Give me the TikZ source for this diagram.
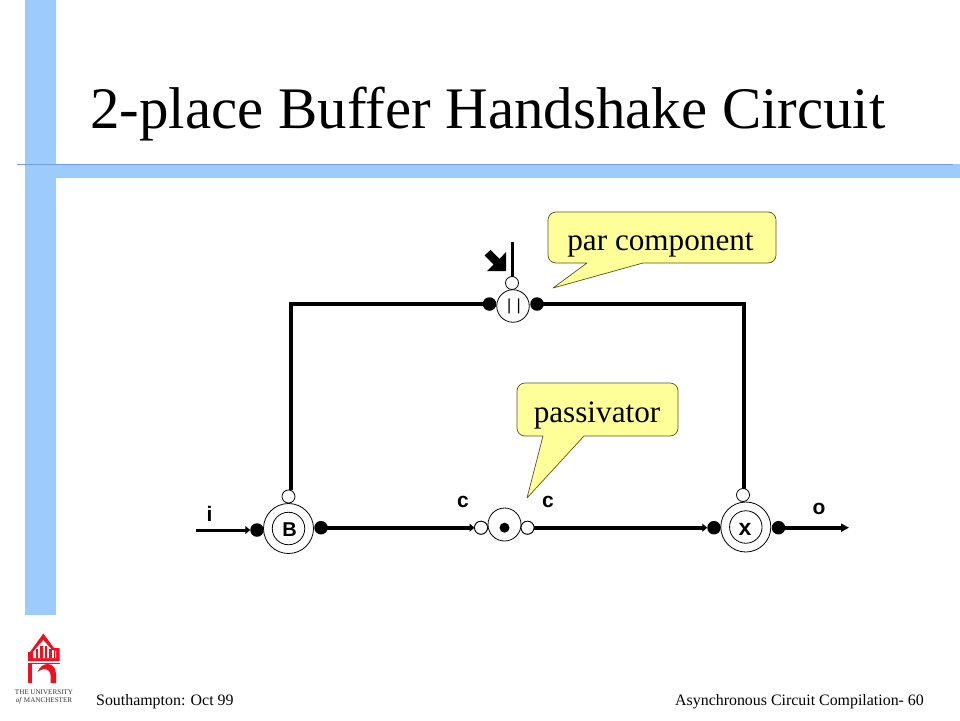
\documentclass[tikz,border=0pt]{standalone}
\usepackage{fontspec}
\setmainfont{Liberation Serif}
\setsansfont{Liberation Sans}
\usetikzlibrary{arrows.meta}
\definecolor{bandblue}{HTML}{9DCBFD}
\definecolor{ruleblue}{HTML}{6F9FE0}
\definecolor{notefill}{HTML}{FFFF99}
\definecolor{noteline}{HTML}{555522}
\definecolor{logored}{HTML}{EE1122}
\definecolor{logotext}{HTML}{333333}
\tikzset{
  ring/.style={circle,draw=black,line width=0.8pt,fill=white,inner sep=0pt,outer sep=0pt,minimum size=#1},
  port/.style={circle,fill=black,draw=none,inner sep=0pt,outer sep=0pt,minimum size=13.5pt},
  hollow/.style={circle,draw=black,line width=0.8pt,fill=white,inner sep=0pt,outer sep=0pt,minimum size=13pt},
  wire/.style={line width=4pt,line cap=butt},
  thinwire/.style={line width=3pt},
  tip/.style={-{Triangle[length=8pt,width=8pt]}},
  smalltip/.style={-{Triangle[length=5pt,width=8pt]}},
  lab/.style={font=\sffamily\bfseries\fontsize{21}{21}\selectfont,inner sep=0pt,anchor=base},
  note/.style={fill=notefill,draw=noteline,line width=0.7pt,line join=round},
  notetext/.style={font=\fontsize{31.2}{31}\selectfont,inner sep=0pt,anchor=base},
  foot/.style={font=\fontsize{15.9}{16}\selectfont,inner sep=0pt,anchor=base west},
  logotype/.style={inner sep=0pt,text=logotext,font=\fontsize{7.1}{8}\selectfont},
}
\begin{document}
\begin{tikzpicture}[x=1pt,y=-1pt]
\useasboundingbox (0,0) rectangle (960,720);
\fill[white] (0,0) rectangle (960,720);
% bands
\fill[bandblue] (25,0) rectangle (56,615);
\fill[bandblue] (56,164) rectangle (960,178);
\draw[ruleblue,line width=0.9pt] (17,164.3) -- (953,164.3);
% title
\node[inner sep=0pt,anchor=base west,font=\fontsize{58.9}{60}\selectfont] (title) at (90,128) {2-place Buffer Handshake Circuit};
% callouts
\path[note] (556,212) -- (768,212) arc[start angle=-90,end angle=0,radius=8] -- (776,255) arc[start angle=0,end angle=90,radius=8] -- (643,263) -- (553,288) -- (587,263) -- (556,263) arc[start angle=90,end angle=180,radius=8] -- (548,220) arc[start angle=180,end angle=270,radius=8] -- cycle;
\node[notetext] (noteA) at (660.5,250) {par component};
\path[note] (525,383) -- (670,383) arc[start angle=-90,end angle=0,radius=8] -- (678,428) arc[start angle=0,end angle=90,radius=8] -- (584,436) -- (527,498) -- (543,436) -- (525,436) arc[start angle=90,end angle=180,radius=8] -- (517,391) arc[start angle=180,end angle=270,radius=8] -- cycle;
\node[notetext] (noteB) at (597,422) {passivator};
% anchors of wires
\coordinate (cornerL) at (291,304);
\coordinate (cornerR) at (744,304);
\coordinate (dropL) at (291,490);
\coordinate (dropR) at (744,489);
\coordinate (inStart) at (196,530);
\coordinate (outEnd) at (849,527.7);
\coordinate (actTop) at (512,242);
% components
\node[port] (parL) at (489.5,304) {};
\node[port] (parR) at (537,304) {};
\node[port] (bL) at (257,530) {};
\node[port] (bR) at (321,527.7) {};
\node[port] (xL) at (714,527.7) {};
\node[port] (xR) at (778.5,527.7) {};
\node[hollow] (pasL) at (481,527.7) {};
\node[hollow] (pasR) at (527.5,527.7) {};
% wires
\draw[wire] (parL.center) -- (cornerL) -- (dropL);
\draw[wire] (parR.center) -- (cornerR) -- (dropR);
\draw[wire,smalltip] (bR.center) -- (pasL.west);
\draw[wire,smalltip] (pasR.center) -- (xL.west);
\draw[thinwire,smalltip] (inStart) -- (bL.west);
\draw[wire,tip] (xR.center) -- (outEnd);
\draw[thinwire] (actTop) -- (512,277);
% rings
\node[ring=32.5pt] (par) at (513,306) {};
\node[inner sep=0pt,font=\sffamily\fontsize{16}{16}\selectfont] (parT) at (514,306) {|\kern5.4pt|};
\node[hollow] (parTop) at (512,283) {};
\node[ring=50pt] (bOuter) at (288.5,528.5) {};
\node[ring=32.5pt] (bInner) at (288.5,528.5) {};
\node[lab,font=\sffamily\bfseries\fontsize{20}{20}\selectfont] (bT) at (289.5,536) {B};
\node[hollow] (bTop) at (288.5,496.5) {};
\node[ring=50pt] (xOuter) at (745.8,527) {};
\node[ring=32.5pt] (xInner) at (745.8,527) {};
\node[lab,font=\sffamily\bfseries\fontsize{23}{23}\selectfont] (xT) at (745,535.5) {x};
\node[hollow] (xTop) at (743,495) {};
\node[ring=33pt] (pas) at (504.5,524.5) {};
\fill[black] (504.5,527.7) circle (5);
\node[hollow] at (pasL) {};
\node[hollow] at (pasR) {};
% labels
\node[lab] (li) at (209.5,521.5) {i};
\node[lab] (lo) at (819,514.5) {o};
\node[lab] (lc1) at (463,507.5) {c};
\node[lab] (lc2) at (548,507.5) {c};
% activate arrow
\fill[black] (490.5,250) -- (499.5,259) -- (506,252) -- (506,271) -- (487,271) -- (493.5,264.5) -- (484.5,255.5) -- cycle;
% footer
\node[foot] (fl) at (96,705) {Southampton: Oct 99};
\node[foot] (fr) at (675,705) {Asynchronous Circuit Compilation- 60};
% logo
\fill[logored] (43.3,633.5) -- (54,648) -- (59.5,648) -- (59.5,661) -- (28,661) -- (28,652) -- (30,652) -- cycle;
\fill[white] (43.3,640) -- (33,652) -- (33,658) -- (56,658) -- (56,651) -- (52,650) -- cycle;
\fill[logored] (35.5,649) rectangle (38,657.5);
\fill[logored] (40,646) rectangle (42.5,657.5);
\fill[logored] (44.5,646) rectangle (47,657.5);
\fill[logored] (49,649) rectangle (51.5,657.5);
\fill[logored] (53.5,650) rectangle (55,657.5);
\fill[logored] (28,662.5) rectangle (60,664);
\fill[logored] (28,664) -- (32,664) -- (32,683) -- (28,683) -- cycle;
\fill[logored] (37.5,672) .. controls (40,666) and (44,664) .. (48,664) .. controls (53,664) and (56,669) .. (56,674) -- (56,683) -- (50.5,683) -- (50.5,675) .. controls (50.5,671) and (47,669) .. (44,669) .. controls (41,669) and (39,671) .. cycle;
\node[logotype] (lg1) at (44,692) {THE UNIVERSITY};
\node[logotype] (lg2) at (44,701) {\textit{of} MANCHESTER};
\end{tikzpicture}
\end{document}
